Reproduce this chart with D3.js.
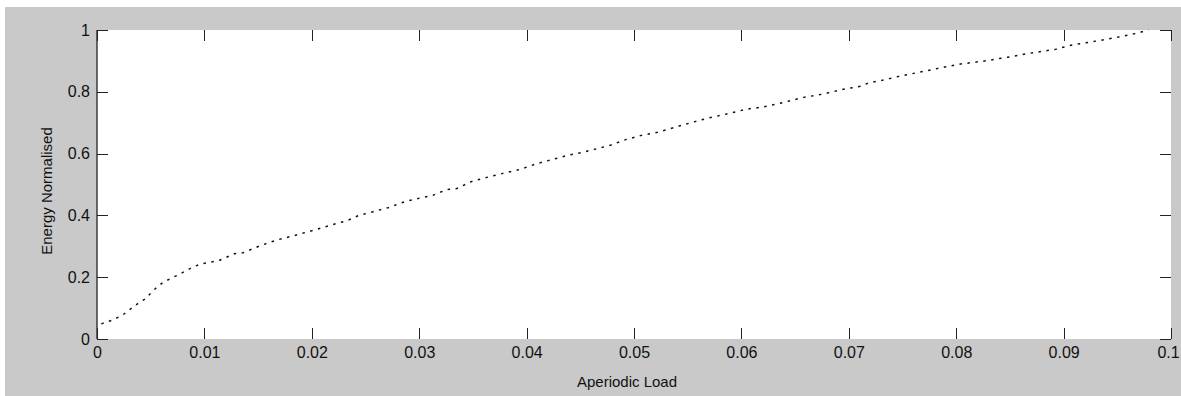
<!DOCTYPE html>
<html>
<head>
<meta charset="utf-8">
<script src="https://cdn.jsdelivr.net/npm/d3@7"></script>
<style>
  body {
    margin: 0;
    background: white;
  }
  #background {
    fill: #c9c9c9;
  }
  #plotArea {
    fill: white;
  }
  .axis text {
    font-family: "Liberation Sans", Arial, sans-serif;
    font-size: 16px;
    fill: #111;
  }
  .axis path {
    display: none;
  }
  .axis line {
    stroke: #222;
    stroke-width: 1px;
    shape-rendering: crispEdges;
  }
  .spine {
    stroke: #222;
    stroke-width: 1.3px;
  }
  .line {
    fill: none;
    stroke: #111;
    stroke-width: 1.5px;
    stroke-dasharray: 2.5, 5.5;
  }
  .label {
    font-family: "Liberation Sans", Arial, sans-serif;
    font-size: 15px;
    fill: #111;
  }
</style>
</head>
<body>
<svg id="svg"></svg>
<script>
// aperiodic load (x) and normalised energy (y)
var loadValues = [
  0.0004, 0.0015, 0.0024, 0.0030, 0.0039, 0.0045, 0.0054, 0.0061, 0.0068, 0.0076,
  0.0083, 0.0090, 0.0098, 0.0113, 0.0128, 0.0136, 0.0152, 0.0168, 0.0183, 0.0190,
  0.0204, 0.0219, 0.0233, 0.0243, 0.0257, 0.0271, 0.0287, 0.0303, 0.0312, 0.0326,
  0.0335, 0.0349, 0.0363, 0.0378, 0.0394, 0.0410, 0.0424, 0.0438, 0.0452, 0.0478,
  0.0493, 0.0507, 0.0522, 0.0538, 0.0554, 0.0568, 0.0590, 0.0605, 0.0619, 0.0636,
  0.0658, 0.0675, 0.0695, 0.0711, 0.0718, 0.0732, 0.0748, 0.0771, 0.0785, 0.0804,
  0.0825, 0.0848, 0.0869, 0.0893, 0.0907, 0.0930, 0.0951, 0.0969, 0.0979
];
var energyValues = [
  0.049, 0.062, 0.078, 0.094, 0.117, 0.130, 0.162, 0.182, 0.195, 0.208,
  0.221, 0.234, 0.244, 0.253, 0.276, 0.279, 0.302, 0.321, 0.334, 0.341,
  0.354, 0.370, 0.383, 0.399, 0.412, 0.425, 0.445, 0.458, 0.464, 0.484,
  0.487, 0.510, 0.523, 0.536, 0.549, 0.568, 0.581, 0.594, 0.604, 0.627,
  0.646, 0.659, 0.669, 0.685, 0.701, 0.714, 0.731, 0.744, 0.750, 0.763,
  0.782, 0.792, 0.808, 0.818, 0.828, 0.838, 0.851, 0.867, 0.877, 0.890,
  0.899, 0.912, 0.925, 0.938, 0.951, 0.964, 0.977, 0.990, 1.000
];

var xTicks = [0, 0.01, 0.02, 0.03, 0.04, 0.05, 0.06, 0.07, 0.08, 0.09, 0.1];
var yTicks = [0, 0.2, 0.4, 0.6, 0.8, 1];

var xTitle = "Aperiodic Load";
var yTitle = "Energy Normalised";

var width = 1181,
    height = 396,
    marginTop = 30,
    marginRight = 10,
    marginBottom = 57,
    marginLeft = 97;

var clipWidth = width - marginLeft - marginRight,
    clipHeight = height - marginTop - marginBottom;

var svg = d3.select("#svg")
  .attr("width", width)
  .attr("height", height);

svg.append("rect")
  .attr("id", "background")
  .attr("x", 5)
  .attr("y", 7)
  .attr("width", width - 5)
  .attr("height", height - 7);

var g = svg.append("g")
  .attr("transform", "translate(" + marginLeft + "," + marginTop + ")");

g.append("rect")
  .attr("id", "plotArea")
  .attr("width", clipWidth)
  .attr("height", clipHeight);

var xScale = d3.scaleLinear().domain([0, 0.1]).range([0, clipWidth]);
var yScale = d3.scaleLinear().domain([0, 1]).range([clipHeight, 0]);

var fmt = function(d) { return d3.format("~g")(d); };

// ticks point inward on all four sides, labels only bottom/left
g.append("g")
  .attr("class", "x axis")
  .attr("transform", "translate(0," + clipHeight + ")")
  .call(d3.axisBottom(xScale).tickValues(xTicks).tickFormat(fmt).tickSizeInner(-11).tickPadding(8))
  .selectAll("text")
  .attr("dx", function(d, i) { return i === xTicks.length - 1 ? -3 : 0; });

g.append("g")
  .attr("class", "x axis")
  .call(d3.axisTop(xScale).tickValues(xTicks).tickFormat("").tickSizeInner(-11));

g.append("g")
  .attr("class", "y axis")
  .call(d3.axisLeft(yScale).tickValues(yTicks).tickFormat(fmt).tickSizeInner(-11).tickPadding(7));

g.append("g")
  .attr("class", "y axis")
  .attr("transform", "translate(" + clipWidth + ",0)")
  .call(d3.axisRight(yScale).tickValues(yTicks).tickFormat("").tickSizeInner(-11));

g.append("line")
  .attr("class", "spine")
  .attr("x1", 0).attr("x2", 0)
  .attr("y1", 0).attr("y2", clipHeight);

var data = loadValues.map(function(x, i) {
  return {load: x, energy: energyValues[i]};
});

var line = d3.line()
  .x(function(d) { return xScale(d.load); })
  .y(function(d) { return yScale(d.energy); });

g.append("path")
  .datum(data)
  .attr("class", "line")
  .attr("d", line);

svg.append("text")
  .attr("class", "label")
  .attr("x", 627)
  .attr("y", 387)
  .attr("text-anchor", "middle")
  .text(xTitle);

svg.append("text")
  .attr("class", "label")
  .attr("transform", "translate(52,191) rotate(-90)")
  .attr("text-anchor", "middle")
  .text(yTitle);
</script>
</body>
</html>
